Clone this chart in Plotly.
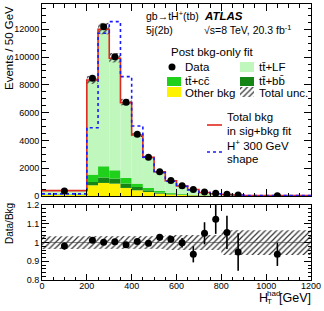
import plotly.graph_objects as go

# ---------------- data ----------------
edges = [0, 200, 250, 300, 350, 400, 450, 500, 550, 600, 650, 700, 750, 800, 850, 900, 1200]
centers = [100, 225, 275, 325, 375, 425, 475, 525, 575, 625, 675, 725, 775, 825, 875, 1050]

other_bkg = [70, 770, 940, 890, 580, 410, 290, 170, 110, 70, 45, 28, 18, 11, 7, 3]
ttbb = [25, 240, 390, 360, 310, 240, 120, 75, 50, 30, 20, 12, 8, 5, 3, 1]
ttcc = [35, 530, 810, 600, 410, 240, 170, 115, 70, 50, 30, 18, 10, 6, 4, 1.5]
total_bkg = [375, 8360, 12050, 9950, 6760, 4400, 2790, 1720, 1100, 725, 480, 262, 168, 110, 70, 26]
sigbkg_total = [385, 8350, 12000, 9910, 6720, 4390, 2785, 1745, 1095, 715, 465, 255, 162, 106, 68, 25]
hplus_shape = [150, 4917, 11713, 12548, 8589, 5040, 2800, 1680, 1060, 690, 440, 250, 160, 100, 62, 24]
data = [360, 8474, 12189, 10029, 6746, 4442, 2786, 1750, 1120, 730, 460, 280, 190, 120, 70, 25]

ratio = [0.981, 1.012, 1.001, 1.004, 0.988, 1.006, 0.996, 1.028, 1.017, 0.999, 0.937, 1.049, 1.124, 1.054, 0.950, 0.937]
ratio_err = [0.019, 0.008, 0.007, 0.007, 0.008, 0.010, 0.012, 0.017, 0.017, 0.025, 0.043, 0.059, 0.078, 0.088, 0.100, 0.062]
rel_unc = [0.034, 0.034, 0.034, 0.034, 0.034, 0.034, 0.034, 0.034, 0.040, 0.040, 0.040, 0.040, 0.040, 0.066, 0.066, 0.066]

main_yticks = [0, 2000, 4000, 6000, 8000, 10000, 12000]
main_ytext = ["0", "2000", "4000", "6000", "8000", "10000", "12000"]
ratio_yticks = [0.8, 0.9, 1.0, 1.1, 1.2]
ratio_ytext = ["0.8", "0.9", "1", "1.1", "1.2"]
xticks = [0, 200, 400, 600, 800, 1000, 1200]
xtext = ["0", "200", "400", "600", "800", "1000", "1200"]

# ---------------- derived ----------------
widths = [edges[i + 1] - edges[i] for i in range(len(edges) - 1)]
tt_lf = [t - o - b - c for t, o, b, c in zip(total_bkg, other_bkg, ttbb, ttcc)]
base_bb = other_bkg
base_cc = [o + b for o, b in zip(other_bkg, ttbb)]
base_lf = [o + b + c for o, b, c in zip(other_bkg, ttbb, ttcc)]
unc_abs = [t * u for t, u in zip(total_bkg, rel_unc)]

C_LF = "#bff7bd"
C_CC = "#1fd11b"
C_BB = "#158515"
C_OTH = "#fff200"
C_RED = "#e0281e"
C_BLUE = "#1a1aff"
FONT = "Liberation Sans"

W, H = 324, 311
L, R, T, B = 42, 13, 4, 31
YMAX = 13820


def px(x):
    return (x - L) / (W - L - R)


def py(y):
    return (H - B - y) / (H - T - B)


MAIN_BOTTOM_PX = 196
RATIO_TOP_PX = 205


def dx(x):
    return (x - L) / (W - L - R) * 1200


def dy(y):
    return (MAIN_BOTTOM_PX - y) / (MAIN_BOTTOM_PX - T) * YMAX


fig = go.Figure()

hatch = dict(shape="/", fgcolor="#303030", bgcolor="rgba(0,0,0,0)", size=4, solidity=0.3, fillmode="replace")

# stacked histogram
for vals, base, col in [(other_bkg, [0] * len(other_bkg), C_OTH), (ttbb, base_bb, C_BB),
                        (ttcc, base_cc, C_CC), (tt_lf, base_lf, C_LF)]:
    fig.add_trace(go.Bar(x=centers, y=vals, base=base, width=widths, marker=dict(color=col, line=dict(width=0)),
                         xaxis="x2", yaxis="y2", showlegend=False))

# step lines
step_x = edges
fig.add_trace(go.Scatter(x=step_x, y=sigbkg_total + [sigbkg_total[-1]], mode="lines", line_shape="hv",
                         line=dict(color=C_RED, width=1.6), xaxis="x2", yaxis="y2", showlegend=False))
fig.add_trace(go.Scatter(x=step_x, y=hplus_shape + [hplus_shape[-1]], mode="lines", line_shape="hv",
                         line=dict(color=C_BLUE, width=1.6, dash="dot"), xaxis="x2", yaxis="y2", showlegend=False))

# total uncertainty hatch (main)
fig.add_trace(go.Bar(x=centers, y=[2 * u for u in unc_abs], base=[t - u for t, u in zip(total_bkg, unc_abs)],
                     width=widths, marker=dict(color="rgba(0,0,0,0)", line=dict(width=0), pattern=hatch),
                     xaxis="x2", yaxis="y2", showlegend=False))

# data
fig.add_trace(go.Scatter(x=centers, y=data, mode="markers", marker=dict(color="black", size=7),
                         xaxis="x2", yaxis="y2", showlegend=False))

# ratio band
fig.add_trace(go.Bar(x=centers, y=[2 * u for u in rel_unc], base=[1 - u for u in rel_unc], width=widths,
                     marker=dict(color="rgba(0,0,0,0)", line=dict(width=0), pattern=hatch),
                     xaxis="x", yaxis="y", showlegend=False))
fig.add_trace(go.Scatter(x=centers, y=ratio, mode="markers",
                         marker=dict(color="black", size=7),
                         error_y=dict(type="data", array=ratio_err, width=0, thickness=1.6, color="black"),
                         xaxis="x", yaxis="y", showlegend=False))

# legend symbols drawn in main axes
fig.add_trace(go.Scatter(x=[dx(172)], y=[dy(67)], mode="markers", marker=dict(color="black", size=7),
                         xaxis="x2", yaxis="y2", showlegend=False, cliponaxis=False))
fig.add_trace(go.Bar(x=[dx(247)], y=[dy(87) - dy(97)], base=[dy(97)], width=[dx(254) - dx(240)],
                     marker=dict(color="rgba(0,0,0,0)", line=dict(width=0), pattern=hatch),
                     xaxis="x2", yaxis="y2", showlegend=False))

shapes = []
for (x0, y0, x1, y1, col) in [(240, 62, 254, 72, C_LF), (167, 77, 181, 86, C_CC), (240, 77, 254, 86, C_BB),
                              (167, 87, 181, 97, C_OTH)]:
    shapes.append(dict(type="rect", xref="paper", yref="paper", x0=px(x0), x1=px(x1), y0=py(y1), y1=py(y0),
                       fillcolor=col, line=dict(width=0)))
shapes.append(dict(type="line", xref="paper", yref="paper", x0=px(207), x1=px(222), y0=py(125), y1=py(125),
                   line=dict(color=C_RED, width=1.6)))
shapes.append(dict(type="line", xref="paper", yref="paper", x0=px(207), x1=px(222), y0=py(152), y1=py(152),
                   line=dict(color=C_BLUE, width=1.6, dash="dot")))
shapes.append(dict(type="line", xref="x", yref="y", x0=0, x1=1200, y0=1, y1=1,
                   line=dict(color="#8c8c8c", width=1), layer="below"))

ann = []


def text(x, y, s, size=11, anchor="left", **kw):
    ann.append(dict(xref="paper", yref="paper", x=px(x), y=py(y), text=s, showarrow=False,
                    xanchor=anchor, yanchor="middle", font=dict(family=FONT, size=size, color="black"), **kw))


text(144, 16, "gb→tH<sup>+</sup>(tb)", 10.5)
text(202, 16, "<b><i>ATLAS</i></b>", 11.5)
text(144, 30, "5j(2b)", 10.5)
text(202, 30, "√s=8 TeV, 20.3 fb<sup>-1</sup>", 10.5)
text(169, 52, "Post bkg-only fit", 11.5)
text(183, 67, "Data", 11.5)
text(257, 67, "tt\u0304+LF", 11.5)
text(183, 81, "tt\u0304+cc\u0304", 11.5)
text(257, 81, "tt\u0304+bb\u0304", 11.5)
text(183, 93, "Other bkg", 11.5)
text(257, 93, "Total unc.", 11.5)
text(225, 117, "Total bkg", 11.5)
text(225, 131, "in sig+bkg fit", 11.5)
text(225, 145, "H<sup>+</sup> 300 GeV", 11.5)
text(225, 159, "shape", 11.5)

# axis titles
ann.append(dict(xref="paper", yref="paper", x=px(9), y=py(4), text="Events / 50 GeV", showarrow=False,
                textangle=-90, xanchor="center", yanchor="top", font=dict(family=FONT, size=11.5, color="black")))
ann.append(dict(xref="paper", yref="paper", x=px(9.5), y=py(201), text="Data/Bkg", showarrow=False,
                textangle=-90, xanchor="center", yanchor="top", font=dict(family=FONT, size=10, color="black")))
text(257, 298, "H", 12.5)
text(265, 293, "had", 8)
text(265, 301, "T", 8)
text(277, 298, "[GeV]", 12.5)

axis_common = dict(showline=True, linecolor="black", linewidth=1, mirror="ticks", ticks="inside",
                   showgrid=False, zeroline=False, tickcolor="black", automargin=False,
                   tickfont=dict(family=FONT, size=9, color="black"))

fig.update_layout(
    width=W, height=H, margin=dict(l=L, r=R, t=T, b=B, autoexpand=False), paper_bgcolor="white",
    plot_bgcolor="white",
    barmode="overlay", showlegend=False, shapes=shapes, annotations=ann,
    xaxis=dict(domain=[0, 1], range=[0, 1200], anchor="y", tickvals=xticks, ticktext=xtext, ticklen=6,
               ticklabelstandoff=-3,
               minor=dict(dtick=50, tick0=0, ticklen=3, ticks="inside", tickcolor="black"),
               **axis_common),
    yaxis=dict(domain=[0, py(RATIO_TOP_PX)], range=[0.8, 1.2], anchor="x", tickvals=ratio_yticks,
               ticktext=ratio_ytext, ticklen=7,
               minor=dict(dtick=0.02, tick0=0.8, ticklen=3.5, ticks="inside", tickcolor="black"),
               **axis_common),
    xaxis2=dict(domain=[0, 1], range=[0, 1200], anchor="y2", matches="x", tickvals=xticks, showticklabels=False,
                ticklen=7, minor=dict(dtick=50, tick0=0, ticklen=3.5, ticks="inside", tickcolor="black"),
                **axis_common),
    yaxis2=dict(domain=[py(MAIN_BOTTOM_PX), 1], range=[0, YMAX], anchor="x2", tickvals=main_yticks,
                ticktext=main_ytext, ticklen=7,
                minor=dict(dtick=500, tick0=0, ticklen=3.5, ticks="inside", tickcolor="black"),
                **axis_common),
)

fig.write_html("out.html", config={"displayModeBar": False, "staticPlot": True},
               post_script="document.body.style.margin='0';document.body.style.padding='0';")
